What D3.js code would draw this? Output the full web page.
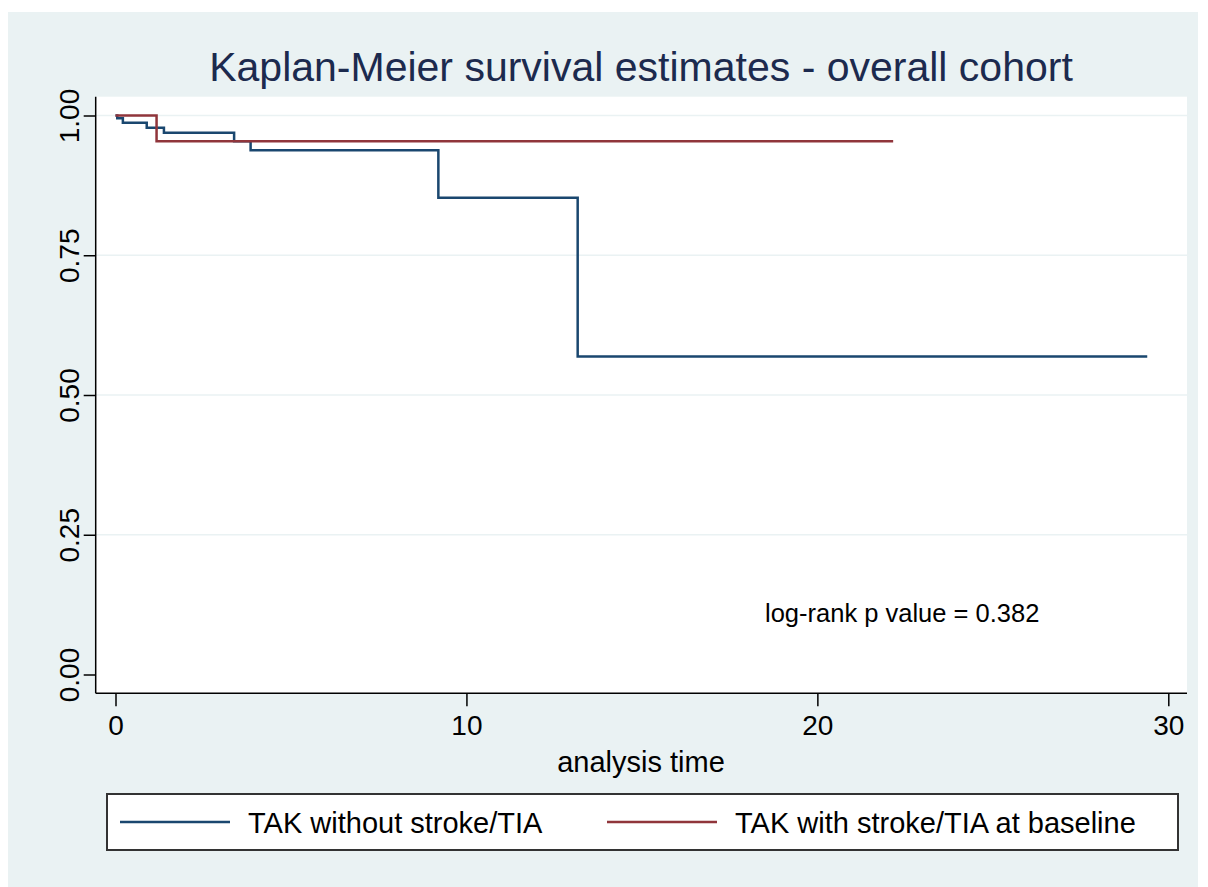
<!DOCTYPE html>
<html>
<head>
<meta charset="utf-8">
<script src="https://cdn.jsdelivr.net/npm/d3@7"></script>
<style>
  body { margin: 0; background: #fff; }
  text { font-family: "Liberation Sans", Arial, Helvetica, sans-serif; }
</style>
</head>
<body>
<div id="chart"></div>
<script>
// KM step points (time, survival)
var timesNoStroke = [0, 0.05, 0.21, 0.89, 1.38, 3.38, 3.85, 9.20, 13.17, 29.4];
var survNoStroke  = [1.0, 0.995, 0.987, 0.978, 0.969, 0.954, 0.938, 0.853, 0.569, 0.569];
var timesStroke = [0, 1.17, 22.16];
var survStroke  = [1.0, 0.954, 0.954];

var xTicks = [0, 10, 20, 30];
var yTicks = [0, 0.25, 0.5, 0.75, 1];

var seriesNames = ['TAK without stroke/TIA', 'TAK with stroke/TIA at baseline'];
var seriesColors = ['#1a476f', '#90353b'];

var W = 1208, H = 887;
var plot = {left: 95.7, right: 1187, top: 96.7, bottom: 693.3};

var svg = d3.select('#chart').append('svg')
  .attr('width', W)
  .attr('height', H);

svg.append('rect')
  .attr('x', 8).attr('y', 12)
  .attr('width', 1190).attr('height', 875)
  .attr('fill', '#eaf2f3');

svg.append('rect')
  .attr('x', plot.left).attr('y', plot.top)
  .attr('width', plot.right - plot.left)
  .attr('height', plot.bottom - plot.top)
  .attr('fill', '#fff');

var x = d3.scaleLinear().domain([0, 30]).range([115.5, 1168.3]);
var y = d3.scaleLinear().domain([0, 1]).range([674.5, 115.5]);

// gridlines (none at 0)
svg.append('g')
  .selectAll('line')
  .data(yTicks.filter(function (d) { return d > 0; }))
  .enter().append('line')
  .attr('x1', plot.left).attr('x2', plot.right)
  .attr('y1', function (d) { return y(d); })
  .attr('y2', function (d) { return y(d); })
  .attr('stroke', '#eaf2f3')
  .attr('stroke-width', 1.5);

// axes
var yAxis = svg.append('g')
  .attr('transform', 'translate(' + plot.left + ',0)')
  .call(d3.axisLeft(y).tickValues(yTicks).tickSize(12).tickFormat(d3.format('.2f')));
yAxis.select('.domain').remove();
yAxis.selectAll('.tick line').attr('stroke', '#000').attr('stroke-width', 1.5);
yAxis.selectAll('.tick text')
  .attr('x', null).attr('dy', null)
  .attr('transform', 'translate(-17,0) rotate(-90)')
  .attr('text-anchor', 'middle')
  .attr('font-size', 28)
  .attr('fill', '#000');

var xAxis = svg.append('g')
  .attr('transform', 'translate(0,' + plot.bottom + ')')
  .call(d3.axisBottom(x).tickValues(xTicks).tickSize(13).tickFormat(d3.format('d')));
xAxis.select('.domain').remove();
xAxis.selectAll('.tick line').attr('stroke', '#000').attr('stroke-width', 1.5);
xAxis.selectAll('.tick text')
  .attr('y', 42).attr('dy', null)
  .attr('font-size', 28)
  .attr('fill', '#000');

svg.append('line')
  .attr('x1', plot.left).attr('x2', plot.left)
  .attr('y1', plot.top).attr('y2', plot.bottom)
  .attr('stroke', '#000').attr('stroke-width', 1.5);
svg.append('line')
  .attr('x1', plot.left).attr('x2', plot.right)
  .attr('y1', plot.bottom).attr('y2', plot.bottom)
  .attr('stroke', '#000').attr('stroke-width', 1.5);

// survival curves
var line = d3.line()
  .x(function (d) { return x(d[0]); })
  .y(function (d) { return y(d[1]); })
  .curve(d3.curveStepAfter);

var curves = [
  d3.zip(timesNoStroke, survNoStroke),
  d3.zip(timesStroke, survStroke)
];

svg.append('g')
  .selectAll('path')
  .data(curves)
  .enter().append('path')
  .attr('d', line)
  .attr('fill', 'none')
  .attr('stroke', function (d, i) { return seriesColors[i]; })
  .attr('stroke-width', 2.5);

// titles & annotation
svg.append('text')
  .attr('x', 641).attr('y', 81)
  .attr('text-anchor', 'middle')
  .attr('font-size', 41)
  .attr('fill', '#1c2a4e')
  .text('Kaplan-Meier survival estimates - overall cohort');

svg.append('text')
  .attr('x', 641).attr('y', 772)
  .attr('text-anchor', 'middle')
  .attr('font-size', 29)
  .attr('fill', '#000')
  .text('analysis time');

svg.append('text')
  .attr('x', 765).attr('y', 622)
  .attr('font-size', 25.5)
  .attr('fill', '#000')
  .text('log-rank p value = 0.382');

// legend
var legend = svg.append('g');
legend.append('rect')
  .attr('x', 107).attr('y', 794)
  .attr('width', 1071).attr('height', 56)
  .attr('fill', '#fff')
  .attr('stroke', '#333')
  .attr('stroke-width', 2);

var legendX = [120, 607];
var items = legend.selectAll('g.item')
  .data(seriesNames)
  .enter().append('g')
  .attr('class', 'item')
  .attr('transform', function (d, i) { return 'translate(' + legendX[i] + ',822)'; });

items.append('line')
  .attr('x1', 0).attr('x2', 110)
  .attr('stroke', function (d, i) { return seriesColors[i]; })
  .attr('stroke-width', 2.5);

items.append('text')
  .attr('x', 128).attr('y', 10.5)
  .attr('font-size', 29)
  .attr('fill', '#000')
  .text(function (d) { return d; });
</script>
</body>
</html>
